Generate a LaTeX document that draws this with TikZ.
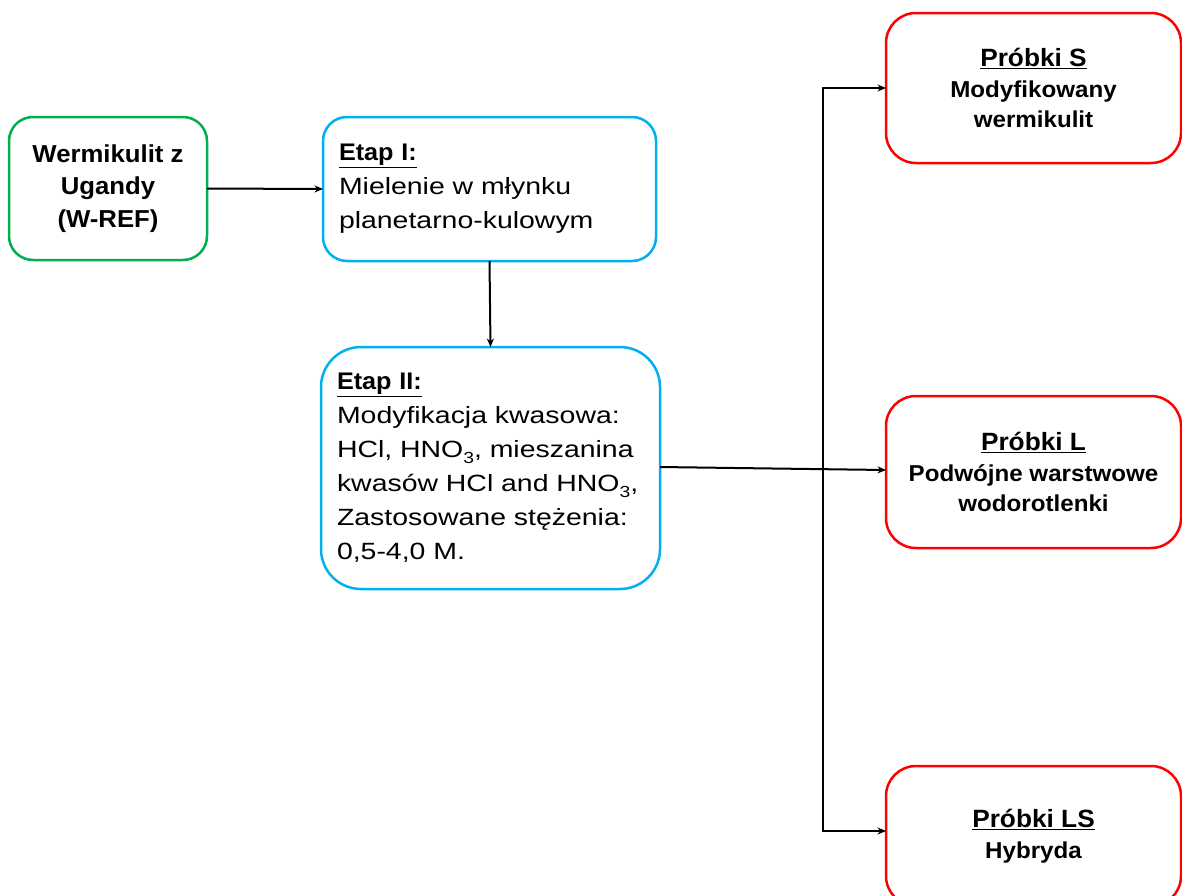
\documentclass[tikz,border=0pt]{standalone}
\usepackage{fontspec}
\setmainfont{Liberation Sans}
\newfontfamily\regf[FakeStretch=1.21]{Liberation Sans}
\newfontfamily\bldf[FakeStretch=1.05]{Liberation Sans}
\usetikzlibrary{arrows.meta}
\definecolor{gbord}{HTML}{00B050}
\definecolor{bbord}{HTML}{00B0F0}
\definecolor{rbord}{HTML}{FF0000}
\tikzset{
  box/.style={draw, line width=2.5pt, rounded corners=#1, inner sep=0pt, outer sep=0pt, fill=white},
  box/.default=24pt,
  greenbox/.style={box=24pt, draw=gbord, align=center,
    font=\bldf\bfseries\fontsize{24.5}{32.5}\selectfont},
  bluebox/.style={box=#1, draw=bbord, align=left,
    font=\regf\fontsize{23.5}{34}\selectfont},
  redbox/.style={box=30pt, draw=rbord, align=center,
    font=\bldf\bfseries\fontsize{23}{30.5}\selectfont},
  conn/.style={line width=2pt, -{Stealth[length=8.5pt,width=7pt]}},
}
\newcommand{\ttl}[1]{{\bldf\bfseries\fontsize{24}{34}\selectfont\underline{#1}}}
\newcommand{\rttl}[1]{{\fontsize{25}{30.5}\selectfont\underline{#1}}}
\newcommand{\lowsub}[1]{\raisebox{-6pt}{\fontsize{16}{16}\selectfont #1}}
\begin{document}
\begin{tikzpicture}[x=1pt,y=-1pt]
\useasboundingbox (0,0) rectangle (1182,895);
\clip (0,0) rectangle (1182,895);
\fill[white] (0,0) rectangle (1182,895);

\node[greenbox, minimum width=198pt, minimum height=143pt] (wref) at (108,188.5)
  {Wermikulit z\\Ugandy\\(W-REF)};

\node[bluebox=24pt, minimum width=333pt, minimum height=144pt, text width=301pt] (e1) at (489.5,189)
  {\ttl{Etap I:}\\Mielenie w młynku\\planetarno-kulowym};

\node[bluebox=40pt, minimum width=339pt, minimum height=242pt, text width=307pt] (e2) at (490.5,468)
  {\ttl{Etap II:}\\Modyfikacja kwasowa:\\HCl, HNO\lowsub{3}, mieszanina\\kwasów HCl and HNO\lowsub{3},\\Zastosowane stężenia:\\0,5-4,0 M.};

\node[redbox, minimum width=295pt, minimum height=150pt] (s) at (1033.5,88)
  {\rttl{Próbki S}\\Modyfikowany\\wermikulit};

\node[redbox, minimum width=295pt, minimum height=152pt] (l) at (1033.5,472)
  {\rttl{Próbki L}\\Podwójne warstwowe\\wodorotlenki};

\node[redbox, minimum width=295pt, minimum height=140pt] (ls) at (1033.5,836)
  {\rttl{Próbki LS}\\Hybryda};

\coordinate (bus) at (823,468);

\draw[conn] (wref.east) -- (e1.west);
\draw[conn] (e1.south) -- (e2.north);
\draw[conn] ([yshift=1pt]e2.east) -- ([yshift=2pt]l.west);
\draw[conn] (bus) |- (s.west);
\draw[conn] (bus) |- ([yshift=5pt]ls.west);
\end{tikzpicture}
\end{document}
